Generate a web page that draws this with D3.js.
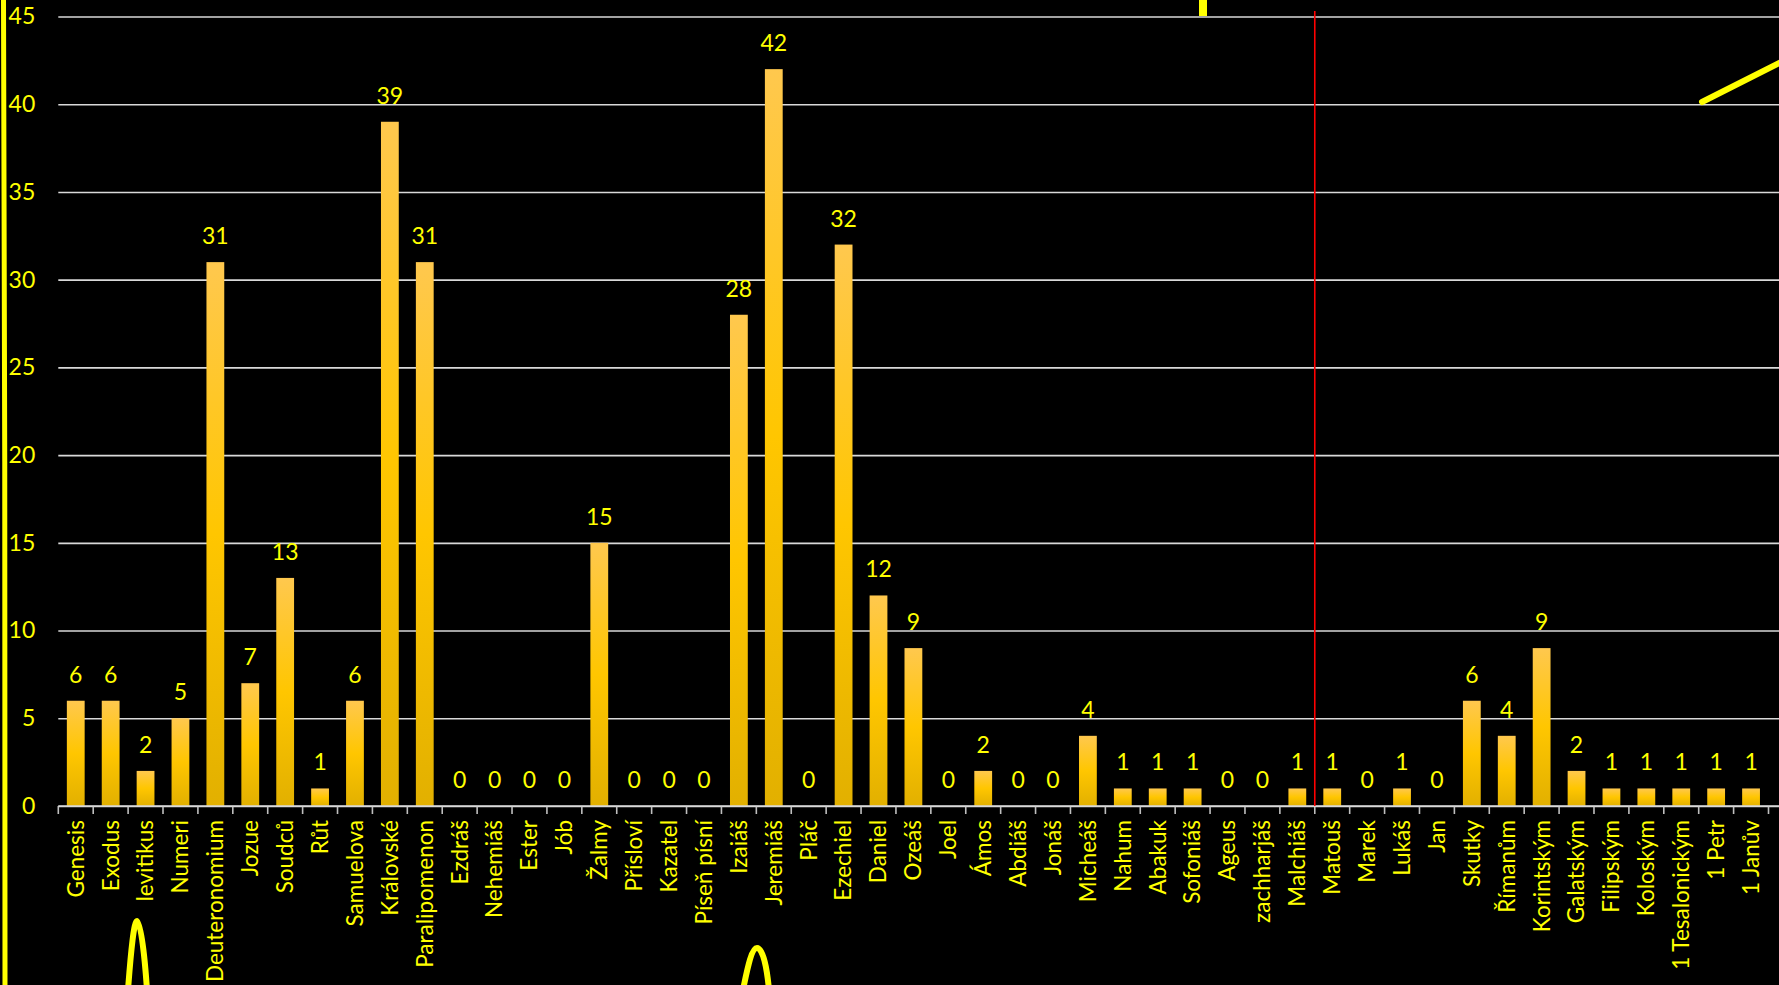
<!DOCTYPE html>
<html>
<head>
<meta charset="utf-8">
<script src="https://cdn.jsdelivr.net/npm/d3@7"></script>
<style>
  html, body { margin: 0; padding: 0; background: #000; }
  svg { display: block; }
  text { font-family: Lato, "Open Sans", sans-serif; }
</style>
</head>
<body>
<svg id="chart" width="1779" height="985"></svg>
<script>
const categories = ["Genesis","Exodus","levitikus","Numeri","Deuteronomium","Jozue","Soudců","Růt","Samuelova","Královské","Paralipomenon","Ezdráš","Nehemiáš","Ester","Jób","Žalmy","Přísloví","Kazatel","Píseň písní","Izaiáš","Jeremiáš","Pláč","Ezechiel","Daniel","Ozeáš","Joel","Ámos","Abdiáš","Jonáš","Micheáš","Nahum","Abakuk","Sofoniáš","Ageus","zachharjáš","Malchiáš","Matouš","Marek","Lukáš","Jan","Skutky","Římanům","Korintským","Galatským","Filipským","Koloským","1 Tesalonickým","1 Petr","1 Janův"];
const values = [6,6,2,5,31,7,13,1,6,39,31,0,0,0,0,15,0,0,0,28,42,0,32,12,9,0,2,0,0,4,1,1,1,0,0,1,1,0,1,0,6,4,9,2,1,1,1,1,1];
const yTicks = [0,5,10,15,20,25,30,35,40,45];
const dividerAfter = "Malchiáš";

(function () {
const W = 1779, H = 985;
const svg = d3.select("#chart");

const defs = svg.append("defs");
const grad = defs.append("linearGradient").attr("id","barGrad")
  .attr("x1","0").attr("y1","0").attr("x2","0").attr("y2","1");
grad.append("stop").attr("offset","0%").attr("stop-color","#FFC84E");
grad.append("stop").attr("offset","50%").attr("stop-color","#FFC600");
grad.append("stop").attr("offset","100%").attr("stop-color","#E2B000");

const mLeft = 58.3, mRight = 1768.5, mTop = 16.5, mBottom = 806;
const x = d3.scaleBand().domain(categories).range([mLeft, mRight])
  .paddingInner(0.49).paddingOuter(0.245);
const y = d3.scaleLinear().domain([0,45]).range([mBottom, mTop]);

// gridlines + y labels
const yAxis = d3.axisLeft(y).tickValues(yTicks).tickSize(-(W - mLeft)).tickPadding(23);
const gy = svg.append("g").attr("transform", `translate(${mLeft},0)`).call(yAxis);
gy.select(".domain").remove();
gy.selectAll(".tick line").attr("stroke","#D9D9D9").attr("stroke-width",1.6);
gy.selectAll(".tick text").attr("fill","#FFFF00").attr("font-size",23)
  .attr("font-family","Lato, 'Open Sans', sans-serif");

// category tick marks
const step = x.step();
const bounds = categories.map(c => x(c) + x.bandwidth()/2 - step/2);
bounds.push(x(categories[categories.length-1]) + x.bandwidth()/2 + step/2);
svg.append("g").selectAll("line").data(bounds).join("line")
  .attr("x1", d => d).attr("x2", d => d)
  .attr("y1", mBottom).attr("y2", mBottom + 8)
  .attr("stroke","#BFBFBF").attr("stroke-width",1.6);

// bars
svg.append("g").selectAll("rect").data(categories).join("rect")
  .attr("x", d => x(d))
  .attr("y", (d,i) => y(values[i]))
  .attr("width", x.bandwidth())
  .attr("height", (d,i) => y(0) - y(values[i]))
  .attr("fill","url(#barGrad)");

// baseline
svg.append("line").attr("x1", mLeft).attr("x2", W).attr("y1", mBottom).attr("y2", mBottom)
  .attr("stroke","#D9D9D9").attr("stroke-width",1.6);

// value labels
svg.append("g").selectAll("text").data(categories).join("text")
  .attr("x", d => x(d) + x.bandwidth()/2)
  .attr("y", (d,i) => y(values[i]) - 18)
  .attr("text-anchor","middle")
  .attr("fill","#FFFF00").attr("font-size",23)
  .text((d,i) => values[i]);

// category labels
svg.append("g").selectAll("text").data(categories).join("text")
  .attr("transform", d => `translate(${x(d) + x.bandwidth()/2},${mBottom + 14}) rotate(-90)`)
  .attr("text-anchor","end")
  .attr("dy","0.35em")
  .attr("fill","#FFFF00").attr("font-size",22.5)
  .text(d => d);

// red divider between OT and NT
const idx = categories.indexOf(dividerAfter);
const divX = bounds[idx + 1];
svg.append("line").attr("x1", divX).attr("x2", divX).attr("y1", 11).attr("y2", mBottom)
  .attr("stroke","#FF0000").attr("stroke-width",1.6);

// decorative yellow strokes
const deco = svg.append("g").attr("fill","none").attr("stroke","#FFFF00")
  .attr("stroke-linecap","round");
deco.append("path").attr("d","M3.5,0 C4.5,300 5.5,700 5,985").attr("stroke-width",5);
deco.append("path").attr("d","M128,990 C131,950 134,921 137,921 C141,921 145,960 147,990").attr("stroke-width",6);
deco.append("path").attr("d","M743,990 C748,965 752,948 757,948 C763,948 767,968 769,990").attr("stroke-width",6);
deco.append("path").attr("d","M1702,102 L1785,60").attr("stroke-width",6);
deco.append("rect").attr("x",1199).attr("y",0).attr("width",8).attr("height",16)
  .attr("fill","#FFFF00").attr("stroke","none");
})();
</script>
</body>
</html>
